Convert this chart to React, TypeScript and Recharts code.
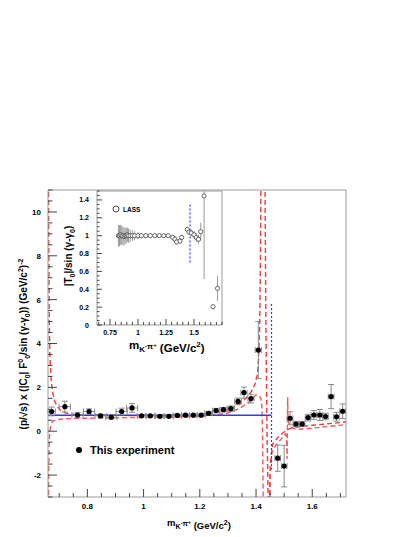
import React from 'react';
import { ComposedChart, Line, Scatter, XAxis, YAxis, ErrorBar } from 'recharts';

// ---- main plot: this experiment (GeV/c^2, arbitrary units)
const expMass = [0.673, 0.72, 0.765, 0.806, 0.847, 0.885, 0.922, 0.959, 0.993, 1.024, 1.058, 1.09, 1.12, 1.149, 1.177, 1.205, 1.231, 1.258, 1.284, 1.31, 1.336, 1.357, 1.382, 1.408, 1.477, 1.5, 1.521, 1.542, 1.564, 1.585, 1.606, 1.627, 1.647, 1.667, 1.686, 1.708];
const expValue = [0.9, 1.12, 0.74, 0.9, 0.7, 0.64, 0.9, 1.06, 0.7, 0.7, 0.68, 0.68, 0.72, 0.73, 0.73, 0.73, 0.82, 0.94, 0.98, 1.03, 1.36, 1.76, 1.49, 3.7, -1.23, -1.59, 0.59, 0.33, 0.33, 0.62, 0.74, 0.74, 0.67, 1.58, 0.66, 0.91];
const expErr = [0.2, 0.25, 0.12, 0.12, 0.08, 0.08, 0.15, 0.2, 0.06, 0.06, 0.06, 0.06, 0.06, 0.06, 0.06, 0.06, 0.08, 0.1, 0.1, 0.12, 0.15, 0.25, 0.2, 1.3, 0.6, 0.95, 0.3, 0.12, 0.12, 0.15, 0.2, 0.25, 0.15, 0.55, 0.2, 0.33];
const expMassErr = [0.013, 0.02, 0.02, 0.02, 0.02, 0.02, 0.02, 0.02, 0.015, 0.015, 0.015, 0.015, 0.015, 0.014, 0.014, 0.014, 0.013, 0.013, 0.013, 0.013, 0.012, 0.011, 0.011, 0.011, 0.01, 0.01, 0.01, 0.01, 0.01, 0.01, 0.01, 0.01, 0.01, 0.01, 0.01, 0.01];

// red dashed band (two edges, broken at the poles)
const bandUpperLeft = [[0.6615, 12], [0.663, 8], [0.6645, 5], [0.667, 3.4], [0.671, 2.4], [0.676, 1.8], [0.683, 1.4], [0.692, 1.15], [0.703, 0.97], [0.718, 0.85], [0.74, 0.78], [0.78, 0.75], [0.85, 0.73], [0.95, 0.72], [1.05, 0.72], [1.15, 0.74], [1.2, 0.78], [1.25, 0.86], [1.29, 0.95], [1.32, 1.08], [1.346, 1.3], [1.37, 1.58], [1.388, 1.9], [1.398, 2.2], [1.405, 2.6], [1.409, 3.3], [1.4125, 4.5], [1.415, 7], [1.4175, 11.5], [1.418, 12]];
const bandLowerLeft = [[0.6615, -4], [0.663, -1.5], [0.665, -0.3], [0.668, 0.15], [0.673, 0.38], [0.68, 0.48], [0.69, 0.53], [0.71, 0.56], [0.75, 0.58], [0.85, 0.6], [0.95, 0.62], [1.05, 0.64], [1.15, 0.66], [1.2, 0.68], [1.25, 0.74], [1.3, 0.83], [1.34, 1.03], [1.37, 1.27], [1.39, 1.52], [1.4, 1.66], [1.41, 1.65], [1.417, 1.5], [1.421, 1.1], [1.423, 0], [1.4245, -2], [1.426, -4]];
const bandPole = [[1.4315, 12], [1.435, 5], [1.439, 0], [1.443, -3], [1.445, -4]];
const bandUpperRight = [[1.446, -4], [1.45, -1.6], [1.459, -0.59], [1.477, -0.29], [1.495, -0.09], [1.51, 0.06], [1.535, 0.18], [1.56, 0.21], [1.6, 0.27], [1.65, 0.33], [1.72, 0.42]];
const bandLowerRight = [[1.449, -4], [1.451, -2], [1.455, -1.0], [1.47, -0.65], [1.49, -0.35], [1.505, -0.12], [1.509, -0.3], [1.5105, -1.27], [1.5125, 1.55], [1.514, 0.5], [1.52, 0.2], [1.54, 0.1], [1.56, 0.09], [1.6, 0.14], [1.65, 0.21], [1.72, 0.3]];

// blue fit level and the threshold marker
const blueLevel = [[0.66, 0.73], [1.455, 0.73]];
const blueMarker = [[1.455, 5.8], [1.455, -1.75]];

// ---- inset: LASS
const lassMass = [0.825, 0.835, 0.845, 0.855, 0.865, 0.875, 0.885, 0.895, 0.905, 0.915, 0.93, 0.95, 0.97, 1.0, 1.03, 1.07, 1.11, 1.15, 1.19, 1.23, 1.27, 1.31, 1.33, 1.345, 1.375, 1.39, 1.44, 1.455, 1.475, 1.5, 1.52, 1.54, 1.56, 1.59, 1.67, 1.71];
const lassValue = [1.0, 1.0, 1.01, 1.0, 1.0, 0.99, 1.0, 1.0, 1.01, 1.0, 1.0, 1.0, 1.0, 1.0, 1.0, 1.0, 1.0, 1.0, 1.0, 1.0, 1.0, 0.98, 0.96, 0.93, 0.94, 0.98, 1.07, 1.04, 1.03, 1.01, 0.98, 0.96, 1.045, 1.445, 0.205, 0.41];
const lassErrLow = [0.12, 0.12, 0.11, 0.11, 0.1, 0.1, 0.09, 0.09, 0.08, 0.08, 0.07, 0.06, 0.05, 0.04, 0.03, 0.03, 0.02, 0.02, 0.02, 0.02, 0.02, 0.03, 0.03, 0.03, 0.03, 0.03, 0.03, 0.03, 0.04, 0.04, 0.05, 0.05, 0.1, 0.93, 0.03, 0.14];
const lassErrHigh = [0.12, 0.12, 0.11, 0.11, 0.1, 0.1, 0.09, 0.09, 0.08, 0.08, 0.07, 0.06, 0.05, 0.04, 0.03, 0.03, 0.02, 0.02, 0.02, 0.02, 0.02, 0.03, 0.03, 0.03, 0.03, 0.03, 0.03, 0.03, 0.04, 0.04, 0.05, 0.05, 0.1, 0.05, 0.03, 0.14];
const insetMarker = [[1.465, 0.7], [1.465, 1.36]];

// axes
const mainXMajor = [0.8, 1, 1.2, 1.4, 1.6];
const mainYMajor = [-2, 0, 2, 4, 6, 8, 10];
const insetXMajor = [0.75, 1, 1.25, 1.5];
const insetYMajor = [0, 0.2, 0.4, 0.6, 0.8, 1, 1.2, 1.4];

const FONT = '"Liberation Sans", Arial, Helvetica, sans-serif';
const RED = '#f03c3c';
const BLUE = '#3535ff';
const FRAME = '#9a9a9a';

const pts = (c: number[][]) => c.map(([x, y]) => ({ x, y }));
const expData = expMass.map((x, i) => ({ x, y: expValue[i], ey: expErr[i], ex: expMassErr[i] }));
const lassData = lassMass.map((x, i) => ({ x, y: lassValue[i], ey: [lassErrLow[i], lassErrHigh[i]], ex: 0.004 }));

const withMinor = (major: number[], minorStep: number, lo: number, hi: number) => {
  const out: number[] = [];
  const start = Math.ceil(lo / minorStep - 1e-6);
  const end = Math.floor(hi / minorStep + 1e-6);
  for (let k = start; k <= end; k++) out.push(Math.round(k * minorStep * 10000) / 10000);
  major.forEach((m) => { if (!out.some((v) => Math.abs(v - m) < 1e-6)) out.push(m); });
  return out.sort((a, b) => a - b);
};
const isMajor = (v: number, major: number[]) => major.some((m) => Math.abs(m - v) < 1e-6);
const fmt = (v: number) => String(Number(v.toFixed(2)));

const yTick = (major: number[], size: number, gap: number, len: number) => (props: any) => {
  const { x, y, payload } = props;
  const big = isMajor(payload.value, major);
  return (
    <g>
      <line x1={x} x2={x + (big ? len : len / 2)} y1={y} y2={y} stroke="#444" strokeWidth={1} />
      {big && (
        <text x={x - gap} y={y + size * 0.36} textAnchor="end" fontSize={size} fontWeight="bold" fontFamily={FONT} fill="#000">
          {fmt(payload.value)}
        </text>
      )}
    </g>
  );
};

const xTick = (major: number[], size: number, gap: number, len: number) => (props: any) => {
  const { x, y, payload } = props;
  const big = isMajor(payload.value, major);
  return (
    <g>
      <line x1={x} x2={x} y1={y} y2={y - (big ? len : len / 2)} stroke="#444" strokeWidth={1} />
      {big && (
        <text x={x} y={y + gap} textAnchor="middle" fontSize={size} fontWeight="bold" fontFamily={FONT} fill="#000">
          {fmt(payload.value)}
        </text>
      )}
    </g>
  );
};

const dot = (p: any) => <circle cx={p.cx} cy={p.cy} r={2.6} fill="#000" />;
const openDot = (p: any) => <circle cx={p.cx} cy={p.cy} r={2.1} fill="#fff" stroke="#444" strokeWidth={0.8} />;

const curve = (data: number[][], key: string, color = RED, dash = '5 3', width = 1.4) => (
  <Line
    key={key}
    data={pts(data)}
    dataKey="y"
    type="linear"
    stroke={color}
    strokeWidth={width}
    strokeDasharray={dash}
    dot={false}
    activeDot={false}
    isAnimationActive={false}
  />
);

// plot boxes: main x 48..346, y 190..497 ; inset x 97..222, y 191..325
const AX = 30; // left axis band width
const BX = 20; // bottom axis band height
const TB = 10; // top / right band

function MainPlot() {
  const xDom: [number, number] = [0.66, 1.72];
  const yDom: [number, number] = [-3, 11];
  return (
    <ComposedChart width={415} height={537} margin={{ top: 190 - TB, right: 69 - TB, bottom: 40 - BX, left: 48 - AX }}>
      <XAxis dataKey="x" type="number" domain={xDom} allowDataOverflow height={BX} ticks={withMinor(mainXMajor, 0.05, 0.7, 1.7)} interval={0} tickSize={0} tickMargin={0} tickLine={false} axisLine={{ stroke: FRAME }} tick={xTick(mainXMajor, 8, 12, 8)} />
      <XAxis xAxisId="top" orientation="top" type="number" domain={xDom} height={TB} tick={false} tickLine={false} axisLine={{ stroke: FRAME }} />
      <YAxis dataKey="y" type="number" domain={yDom} allowDataOverflow width={AX} ticks={withMinor(mainYMajor, 0.5, -3, 11)} interval={0} tickSize={0} tickMargin={0} tickLine={false} axisLine={{ stroke: FRAME }} tick={yTick(mainYMajor, 8, 7, 9)} />
      <YAxis yAxisId="right" orientation="right" type="number" domain={yDom} width={TB} tick={false} tickLine={false} axisLine={{ stroke: FRAME }} />
      {curve(bandUpperLeft, 'ul')}
      {curve(bandLowerLeft, 'll', '#f25a5a')}
      {curve(bandPole, 'pole')}
      {curve(bandUpperRight, 'ur')}
      {curve(bandLowerRight, 'lr', '#f25a5a')}
      {curve(blueLevel, 'blue', BLUE, '0', 1.5)}
      {curve(blueMarker, 'bluedash', BLUE, '2 2', 1.2)}
      <Scatter data={expData} shape={dot} isAnimationActive={false}>
        <ErrorBar dataKey="ey" direction="y" width={3} stroke="#8a8a8a" strokeWidth={1} />
        <ErrorBar dataKey="ex" direction="x" width={3} stroke="#8a8a8a" strokeWidth={1} />
      </Scatter>
    </ComposedChart>
  );
}

function InsetPlot() {
  const xDom: [number, number] = [0.634, 1.75];
  const yDom: [number, number] = [0, 1.5];
  return (
    <ComposedChart width={415} height={537} margin={{ top: 191 - TB, right: 193 - TB, bottom: 212 - BX, left: 97 - AX }}>
      <XAxis dataKey="x" type="number" domain={xDom} allowDataOverflow height={BX} ticks={withMinor(insetXMajor, 0.05, 0.65, 1.75)} interval={0} tickSize={0} tickMargin={0} tickLine={false} axisLine={{ stroke: FRAME }} tick={xTick(insetXMajor, 7, 10, 6)} />
      <XAxis xAxisId="top" orientation="top" type="number" domain={xDom} height={TB} tick={false} tickLine={false} axisLine={{ stroke: FRAME }} />
      <YAxis dataKey="y" type="number" domain={yDom} allowDataOverflow width={AX} ticks={withMinor(insetYMajor, 0.05, 0, 1.5)} interval={0} tickSize={0} tickMargin={0} tickLine={false} axisLine={{ stroke: FRAME }} tick={yTick(insetYMajor, 7, 8, 5)} />
      <YAxis yAxisId="right" orientation="right" type="number" domain={yDom} width={TB} tick={false} tickLine={false} axisLine={{ stroke: FRAME }} />
      {curve(insetMarker, 'insetblue', BLUE, '2 2', 1.2)}
      <Scatter data={lassData} shape={openDot} isAnimationActive={false}>
        <ErrorBar dataKey="ey" direction="y" width={0} stroke="#9a9a9a" strokeWidth={1} />
        <ErrorBar dataKey="ex" direction="x" width={0} stroke="#333" strokeWidth={1} />
      </Scatter>
    </ComposedChart>
  );
}

const txt = { fontFamily: FONT, fontWeight: 'bold' as const, fill: '#000' };

function Annotations() {
  return (
    <svg width={415} height={537} style={{ position: 'absolute', left: 0, top: 0, pointerEvents: 'none' }}>
      {/* main y title */}
      <text transform="translate(27,344) rotate(-90)" textAnchor="middle" fontSize={10} {...txt}>
        (p/√s) x (|C<tspan fontSize={7} dy={3}>0</tspan><tspan dy={-3}>| F</tspan>
        <tspan fontSize={7} dy={-4}>0</tspan><tspan fontSize={7} dy={7}>0</tspan>
        <tspan dy={-3}>/sin (γ-γ</tspan><tspan fontSize={7} dy={3}>0</tspan>
        <tspan dy={-3}>))  (GeV/c</tspan><tspan fontSize={7} dy={-4}>2</tspan>
        <tspan dy={4}>)</tspan><tspan fontSize={7} dy={-4}>-2</tspan>
      </text>
      {/* main x title */}
      <text x={199} y={526} textAnchor="middle" fontSize={9.5} {...txt}>
        m<tspan fontSize={7} dy={3}>K</tspan><tspan fontSize={5.5} dy={-4}>-</tspan><tspan fontSize={7} dy={1}>π</tspan>
        <tspan fontSize={5.5} dy={-2}>+</tspan><tspan dy={5}> (GeV/c</tspan><tspan fontSize={7} dy={-4}>2</tspan><tspan dy={4}>)</tspan>
      </text>
      {/* inset y title */}
      <text transform="translate(72,256) rotate(-90)" textAnchor="middle" fontSize={10} {...txt}>
        |T<tspan fontSize={7} dy={3}>0</tspan><tspan dy={-3}>|/sin (γ-γ</tspan><tspan fontSize={7} dy={3}>0</tspan><tspan dy={-3}>)</tspan>
      </text>
      {/* inset x title */}
      <text x={129} y={349} fontSize={11.5} {...txt}>
        m<tspan fontSize={8} dy={3}>K</tspan><tspan fontSize={6} dy={-4}>-</tspan><tspan fontSize={8} dy={1}>π</tspan>
        <tspan fontSize={6} dy={-2}>+</tspan><tspan dy={5}> (GeV/c</tspan><tspan fontSize={8} dy={-5}>2</tspan><tspan dy={5}>)</tspan>
      </text>
      {/* legends */}
      <circle cx={116} cy={209} r={3} fill="#fff" stroke="#333" strokeWidth={0.9} />
      <text x={123} y={211.5} fontSize={6.5} {...txt}>LASS</text>
      <circle cx={79} cy={450} r={3} fill="#000" />
      <text x={90} y={454} fontSize={11} {...txt}>This experiment</text>
    </svg>
  );
}

export default function App() {
  return (
    <div style={{ position: 'absolute', left: 0, top: 0, width: 415, height: 537, background: '#fff' }}>
      <div style={{ position: 'absolute', left: 0, top: 0 }}>
        <MainPlot />
      </div>
      <div style={{ position: 'absolute', left: 0, top: 0 }}>
        <InsetPlot />
      </div>
      <Annotations />
    </div>
  );
}
